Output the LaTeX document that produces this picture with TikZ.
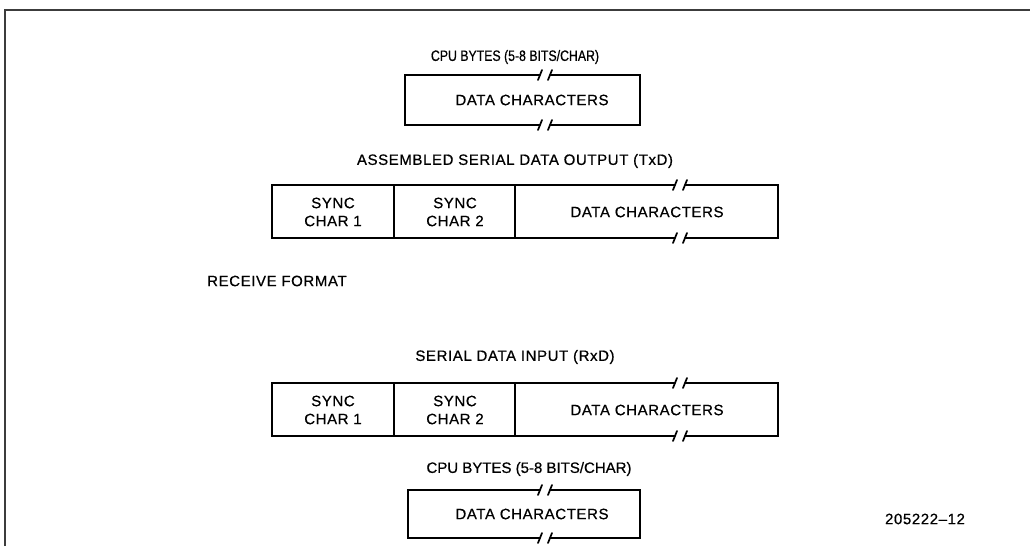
\documentclass[tikz,border=0pt]{standalone}
\usepackage{fontspec}
\setmainfont{Liberation Sans}
\newfontfamily\boxfont[LetterSpace=4,FakeBold=0.6]{Liberation Sans}
\newfontfamily\plainfont[FakeBold=0.6]{Liberation Sans}
\newfontfamily\narrowfont[FakeStretch=0.82,FakeBold=0.6]{Liberation Sans}
\begin{document}
\begin{tikzpicture}[x=1pt,y=1pt,yscale=-1,xscale=1,
  frm/.style={line width=1.6pt,color={rgb,255:red,60;green,60;blue,60}},
  fld/.style={line width=1.7pt,line cap=round},
  lbl/.style={font=\fontsize{15}{17}\selectfont\boxfont,inner sep=0pt},
  ttl/.style={font=\fontsize{15}{17}\selectfont\narrowfont,inner sep=0pt}]
\useasboundingbox (0,0) rectangle (1030,546);

%Straight Lines [id:frame]
\draw [frm] (5,546) -- (5,10) -- (1030,10) ;

%Text Node [id:cpu top]
\node [ttl] (cputop) at (515,57) {CPU BYTES (5-8 BITS/CHAR)};
%Shape: Open Box [id:cpu top box]
\draw [fld] (540,75) -- (405,75) -- (405,125) -- (540,125) ;
\draw [fld] (550,75) -- (640,75) -- (640,125) -- (550,125) ;
\draw [fld] (538,80) -- (542,70) (548,80) -- (552,70) ;
\draw [fld] (538,130) -- (542,120) (548,130) -- (552,120) ;
\node [lbl] (cpudata) at (532,100) {DATA CHARACTERS};

%Text Node [id:txd]
\node [lbl] (txdhead) at (515,161) {ASSEMBLED SERIAL DATA OUTPUT (TxD)};
%Shape: Open Box [id:txd box]
\draw [fld] (675,185) -- (272,185) -- (272,238) -- (675,238) ;
\draw [fld] (685,185) -- (778,185) -- (778,238) -- (685,238) ;
\draw [fld] (394,185) -- (394,238) (515,185) -- (515,238) ;
\draw [fld] (673,190) -- (677,180) (683,190) -- (687,180) ;
\draw [fld] (673,243) -- (677,233) (683,243) -- (687,233) ;
\node [lbl,align=center] (txdsync1) at (333,212) {SYNC\\[1pt]CHAR 1};
\node [lbl,align=center] (txdsync2) at (455,212) {SYNC\\[1pt]CHAR 2};
\node [lbl] (txddata) at (647,212) {DATA CHARACTERS};

%Text Node [id:receive]
\node [lbl,anchor=west] (recv) at (207,281) {RECEIVE FORMAT};

%Text Node [id:rxd]
\node [lbl] (rxdhead) at (515,357) {SERIAL DATA INPUT (RxD)};
%Shape: Open Box [id:rxd box]
\draw [fld] (675,383) -- (272,383) -- (272,436) -- (675,436) ;
\draw [fld] (685,383) -- (778,383) -- (778,436) -- (685,436) ;
\draw [fld] (394,383) -- (394,436) (515,383) -- (515,436) ;
\draw [fld] (673,388) -- (677,378) (683,388) -- (687,378) ;
\draw [fld] (673,441) -- (677,431) (683,441) -- (687,431) ;
\node [lbl,align=center] (rxdsync1) at (333,410) {SYNC\\[1pt]CHAR 1};
\node [lbl,align=center] (rxdsync2) at (455,410) {SYNC\\[1pt]CHAR 2};
\node [lbl] (rxddata) at (647,410) {DATA CHARACTERS};

%Text Node [id:cpu bottom]
\node [lbl,font=\fontsize{15}{17}\selectfont\plainfont] (cpubot) at (529,469) {CPU BYTES (5-8 BITS/CHAR)};
%Shape: Open Box [id:cpu bottom box]
\draw [fld] (540,490) -- (408,490) -- (408,538) -- (540,538) ;
\draw [fld] (550,490) -- (640,490) -- (640,538) -- (550,538) ;
\draw [fld] (538,495) -- (542,485) (548,495) -- (552,485) ;
\draw [fld] (538,543) -- (542,533) (548,543) -- (552,533) ;
\node [lbl] (cpubotdata) at (532,514) {DATA CHARACTERS};

%Text Node [id:figure number]
\node [lbl] (fignum) at (925,519) {205222–12};
\end{tikzpicture}
\end{document}
